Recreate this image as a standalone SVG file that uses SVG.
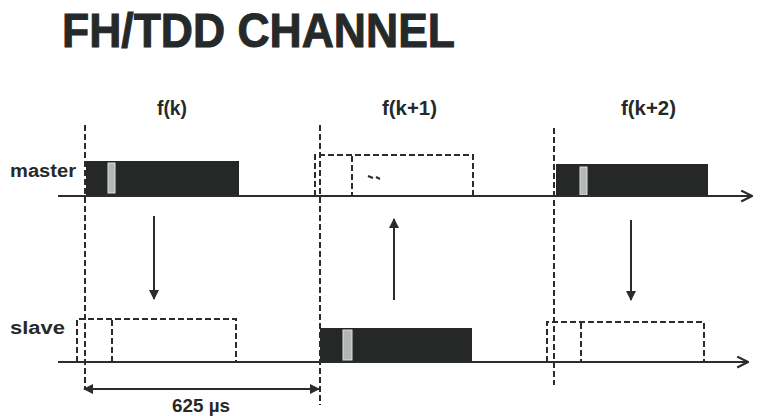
<svg xmlns="http://www.w3.org/2000/svg" width="764" height="416" viewBox="0 0 764 416">
<style>
.t{font-family:"Liberation Sans",Arial,sans-serif;font-weight:bold;fill:#262929}
.ax{stroke:#2a2d2d;stroke-width:2.2;fill:none}
.dash{stroke:#2a2d2d;stroke-width:2;stroke-dasharray:6 3;fill:none}
.blk{fill:#262828}
.strip{fill:#b4b6b6;stroke:#e0e0e0;stroke-width:1}
.arr{stroke:#2a2d2d;stroke-width:2;fill:none}
</style>
<defs>
<marker id="tri" viewBox="0 0 10 10" refX="9" refY="5" markerWidth="10" markerHeight="10" markerUnits="userSpaceOnUse" orient="auto">
<path d="M0,0 L10,5 L0,10 z" fill="#2a2d2d"/>
</marker>
<marker id="chev" viewBox="0 0 12 12" refX="11" refY="6" markerWidth="13" markerHeight="13" markerUnits="userSpaceOnUse" orient="auto">
<path d="M1,1 L11,6 L1,11" fill="none" stroke="#2a2d2d" stroke-width="2"/>
</marker>
</defs>
<rect width="764" height="416" fill="#fff"/>
<text class="t" x="62" y="47" font-size="48" stroke="#262929" stroke-width="1" textLength="393" lengthAdjust="spacingAndGlyphs">FH/TDD CHANNEL</text>
<text class="t" x="157" y="115" font-size="20" textLength="30" lengthAdjust="spacingAndGlyphs">f(k)</text>
<text class="t" x="382" y="115" font-size="20" textLength="55" lengthAdjust="spacingAndGlyphs">f(k+1)</text>
<text class="t" x="621" y="115" font-size="20" textLength="55" lengthAdjust="spacingAndGlyphs">f(k+2)</text>
<text class="t" x="10" y="177" font-size="18" textLength="66" lengthAdjust="spacingAndGlyphs">master</text>
<text class="t" x="10" y="334" font-size="18" textLength="55" lengthAdjust="spacingAndGlyphs">slave</text>
<g id="guides">
<line class="dash" x1="85" y1="125" x2="85" y2="388"/>
<line class="dash" x1="320" y1="125" x2="320" y2="405"/>
<line class="dash" x1="554" y1="128" x2="554" y2="385"/>
</g>
<g id="master-slot-k">
<rect class="blk" x="86" y="161" width="153" height="35"/>
<rect class="strip" x="108" y="163" width="7" height="30"/>
</g>
<g id="master-slot-k1">
<path class="dash" d="M315,196 V155 H473 V196"/>
<line class="dash" x1="352" y1="156" x2="352" y2="196"/>
<path d="M368,176 L373,178 M376,177 L380,179" stroke="#2a2d2d" stroke-width="2" fill="none"/>
</g>
<g id="master-slot-k2">
<rect class="blk" x="556" y="164" width="152" height="32"/>
<rect class="strip" x="580" y="167" width="7" height="28"/>
</g>
<g id="slave-slot-k">
<path class="dash" d="M77,362 V319 H236 V362"/>
<line class="dash" x1="112" y1="320" x2="112" y2="362"/>
</g>
<g id="slave-slot-k1">
<rect class="blk" x="320" y="328" width="152" height="34"/>
<rect class="strip" x="343" y="330" width="9" height="30"/>
</g>
<g id="slave-slot-k2">
<path class="dash" d="M547,362 V322 H704 V362"/>
<line class="dash" x1="581" y1="323" x2="581" y2="362"/>
</g>
<g id="connectors">
<line class="ax" x1="58" y1="196" x2="752" y2="196" marker-end="url(#chev)"/>
<line class="ax" x1="58" y1="362" x2="748" y2="362" marker-end="url(#chev)"/>
<line class="arr" x1="154" y1="216" x2="154" y2="299" marker-end="url(#tri)"/>
<line class="arr" x1="394" y1="300" x2="394" y2="219" marker-end="url(#tri)"/>
<line class="arr" x1="631" y1="220" x2="631" y2="300" marker-end="url(#tri)"/>
<line class="arr" x1="200" y1="389" x2="84" y2="389" marker-end="url(#tri)"/>
<line class="arr" x1="200" y1="389" x2="319" y2="389" marker-end="url(#tri)"/>
</g>
<text class="t" x="172" y="412" font-size="19" textLength="58" lengthAdjust="spacingAndGlyphs">625 µs</text>
</svg>
